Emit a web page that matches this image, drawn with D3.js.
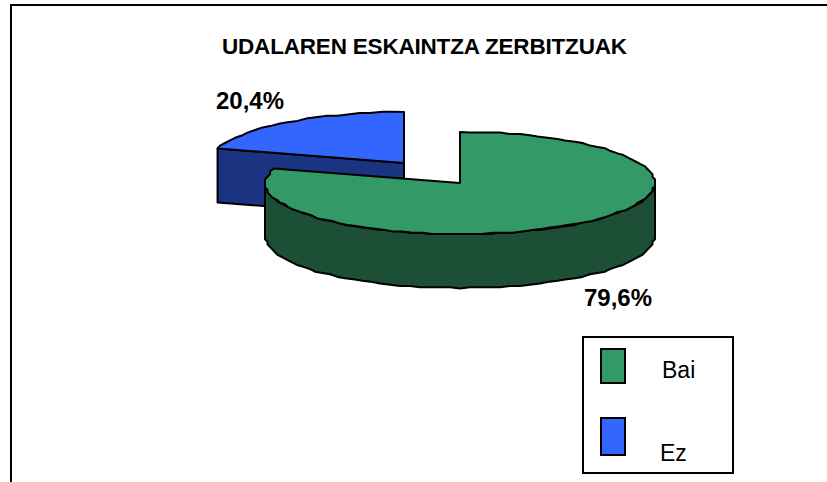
<!DOCTYPE html>
<html><head><meta charset="utf-8">
<script src="https://cdn.jsdelivr.net/npm/d3@7/dist/d3.min.js"></script>
<style>html,body{margin:0;padding:0;background:#fff}svg{display:block}text{font-family:"Liberation Sans",Arial,sans-serif;fill:#000}</style>
</head><body><svg id="c" width="827" height="482"></svg>
<script>
const chartTitle = "UDALAREN ESKAINTZA ZERBITZUAK";
const categories = ["Bai", "Ez"];
const values = [79.6, 20.4];
const valueLabels = ["79,6%", "20,4%"];
const topColors = ["#339966", "#3366ff"];
const wallColors = ["#1c4f35", "#1a3482"];

const svg = d3.select("#c");

// chart frame: open on the right and bottom, as in the reference
svg.append("path").attr("d", "M11,482V5H827").attr("fill", "none").attr("stroke", "#000").attr("stroke-width", 2);

svg.append("text").attr("x", 222).attr("y", 54).attr("font-size", 22.5).attr("font-weight", 700)
  .attr("textLength", 405).attr("lengthAdjust", "spacing").text(chartTitle);

const pie = d3.pie().sort(null).startAngle(0).endAngle(2 * Math.PI)(values);
const greenSlice = pie[0], blueSlice = pie[1];

const rx = 194.5, ry = 51, depth = 54;
const centers = [{ x: 460, y: 183 }, { x: 404, y: 163 }];

const snap = (v, g) => Math.round(v / g) * g;
function rim(c, a0, a1, dy, n) {
  return d3.range(n + 1).map(i => {
    const a = a0 + (a1 - a0) * i / n;
    return [snap(c.x + rx * Math.sin(a), 2.5), snap(c.y + dy - ry * Math.cos(a), 1.3)];
  });
}
const line = d3.line();
const stroke = s => s.attr("stroke", "#000").attr("stroke-width", 2).attr("stroke-linejoin", "round");

// blue slice: cut-face wall, then top
const bc = centers[1];
const bx = bc.x + rx * Math.sin(blueSlice.startAngle), by = bc.y - ry * Math.cos(blueSlice.startAngle);
stroke(svg.append("path").attr("fill", wallColors[1])
  .attr("d", line([[bx, by], [bc.x, bc.y], [bc.x, bc.y + depth], [bx, by + depth]]) + "Z"));
const blueRim = rim(bc, blueSlice.startAngle, blueSlice.endAngle, 0, 22).slice(1, -1);
stroke(svg.append("path").attr("fill", topColors[1])
  .attr("d", line([[bc.x, bc.y], [bx, by], ...blueRim, [bc.x, bc.y - ry]]) + "Z"));

// green slice: outer wall, then top
const gc = centers[0];
const wallTop = rim(gc, Math.PI / 2, 3 * Math.PI / 2, 0, 60);
const wallBottom = rim(gc, Math.PI / 2, 3 * Math.PI / 2, depth, 60).reverse();
stroke(svg.append("path").attr("fill", wallColors[0])
  .attr("d", line([...wallTop, ...wallBottom]) + "Z"));
const gx = gc.x + rx * Math.sin(greenSlice.endAngle), gy = gc.y - ry * Math.cos(greenSlice.endAngle);
stroke(svg.append("path").attr("fill", topColors[0])
  .attr("d", line([[gc.x, gc.y], [gc.x, gc.y - ry], ...rim(gc, greenSlice.startAngle, greenSlice.endAngle, 0, 96).slice(1, -1), [gx, gy]]) + "Z"));

// data labels
const labelPos = [[584, 306], [216, 109]];
svg.selectAll("text.v").data(valueLabels).join("text").attr("class", "v")
  .attr("x", (d, i) => labelPos[i][0]).attr("y", (d, i) => labelPos[i][1])
  .attr("font-size", 24).attr("font-weight", 700).text(d => d);

// legend
svg.append("rect").attr("x", 583).attr("y", 337).attr("width", 150).attr("height", 136)
  .attr("fill", "#fff").attr("stroke", "#000").attr("stroke-width", 2);
const swatches = [[601, 349, 24, 34], [601, 418, 24, 37]];
const legText = [[662, 378], [660, 461]];
svg.selectAll("rect.s").data(categories).join("rect").attr("class", "s")
  .attr("x", (d, i) => swatches[i][0]).attr("y", (d, i) => swatches[i][1])
  .attr("width", (d, i) => swatches[i][2]).attr("height", (d, i) => swatches[i][3])
  .attr("fill", (d, i) => topColors[i]).attr("stroke", "#000").attr("stroke-width", 2);
svg.selectAll("text.l").data(categories).join("text").attr("class", "l")
  .attr("x", (d, i) => legText[i][0]).attr("y", (d, i) => legText[i][1])
  .attr("font-size", 23).text(d => d);
</script></body></html>
